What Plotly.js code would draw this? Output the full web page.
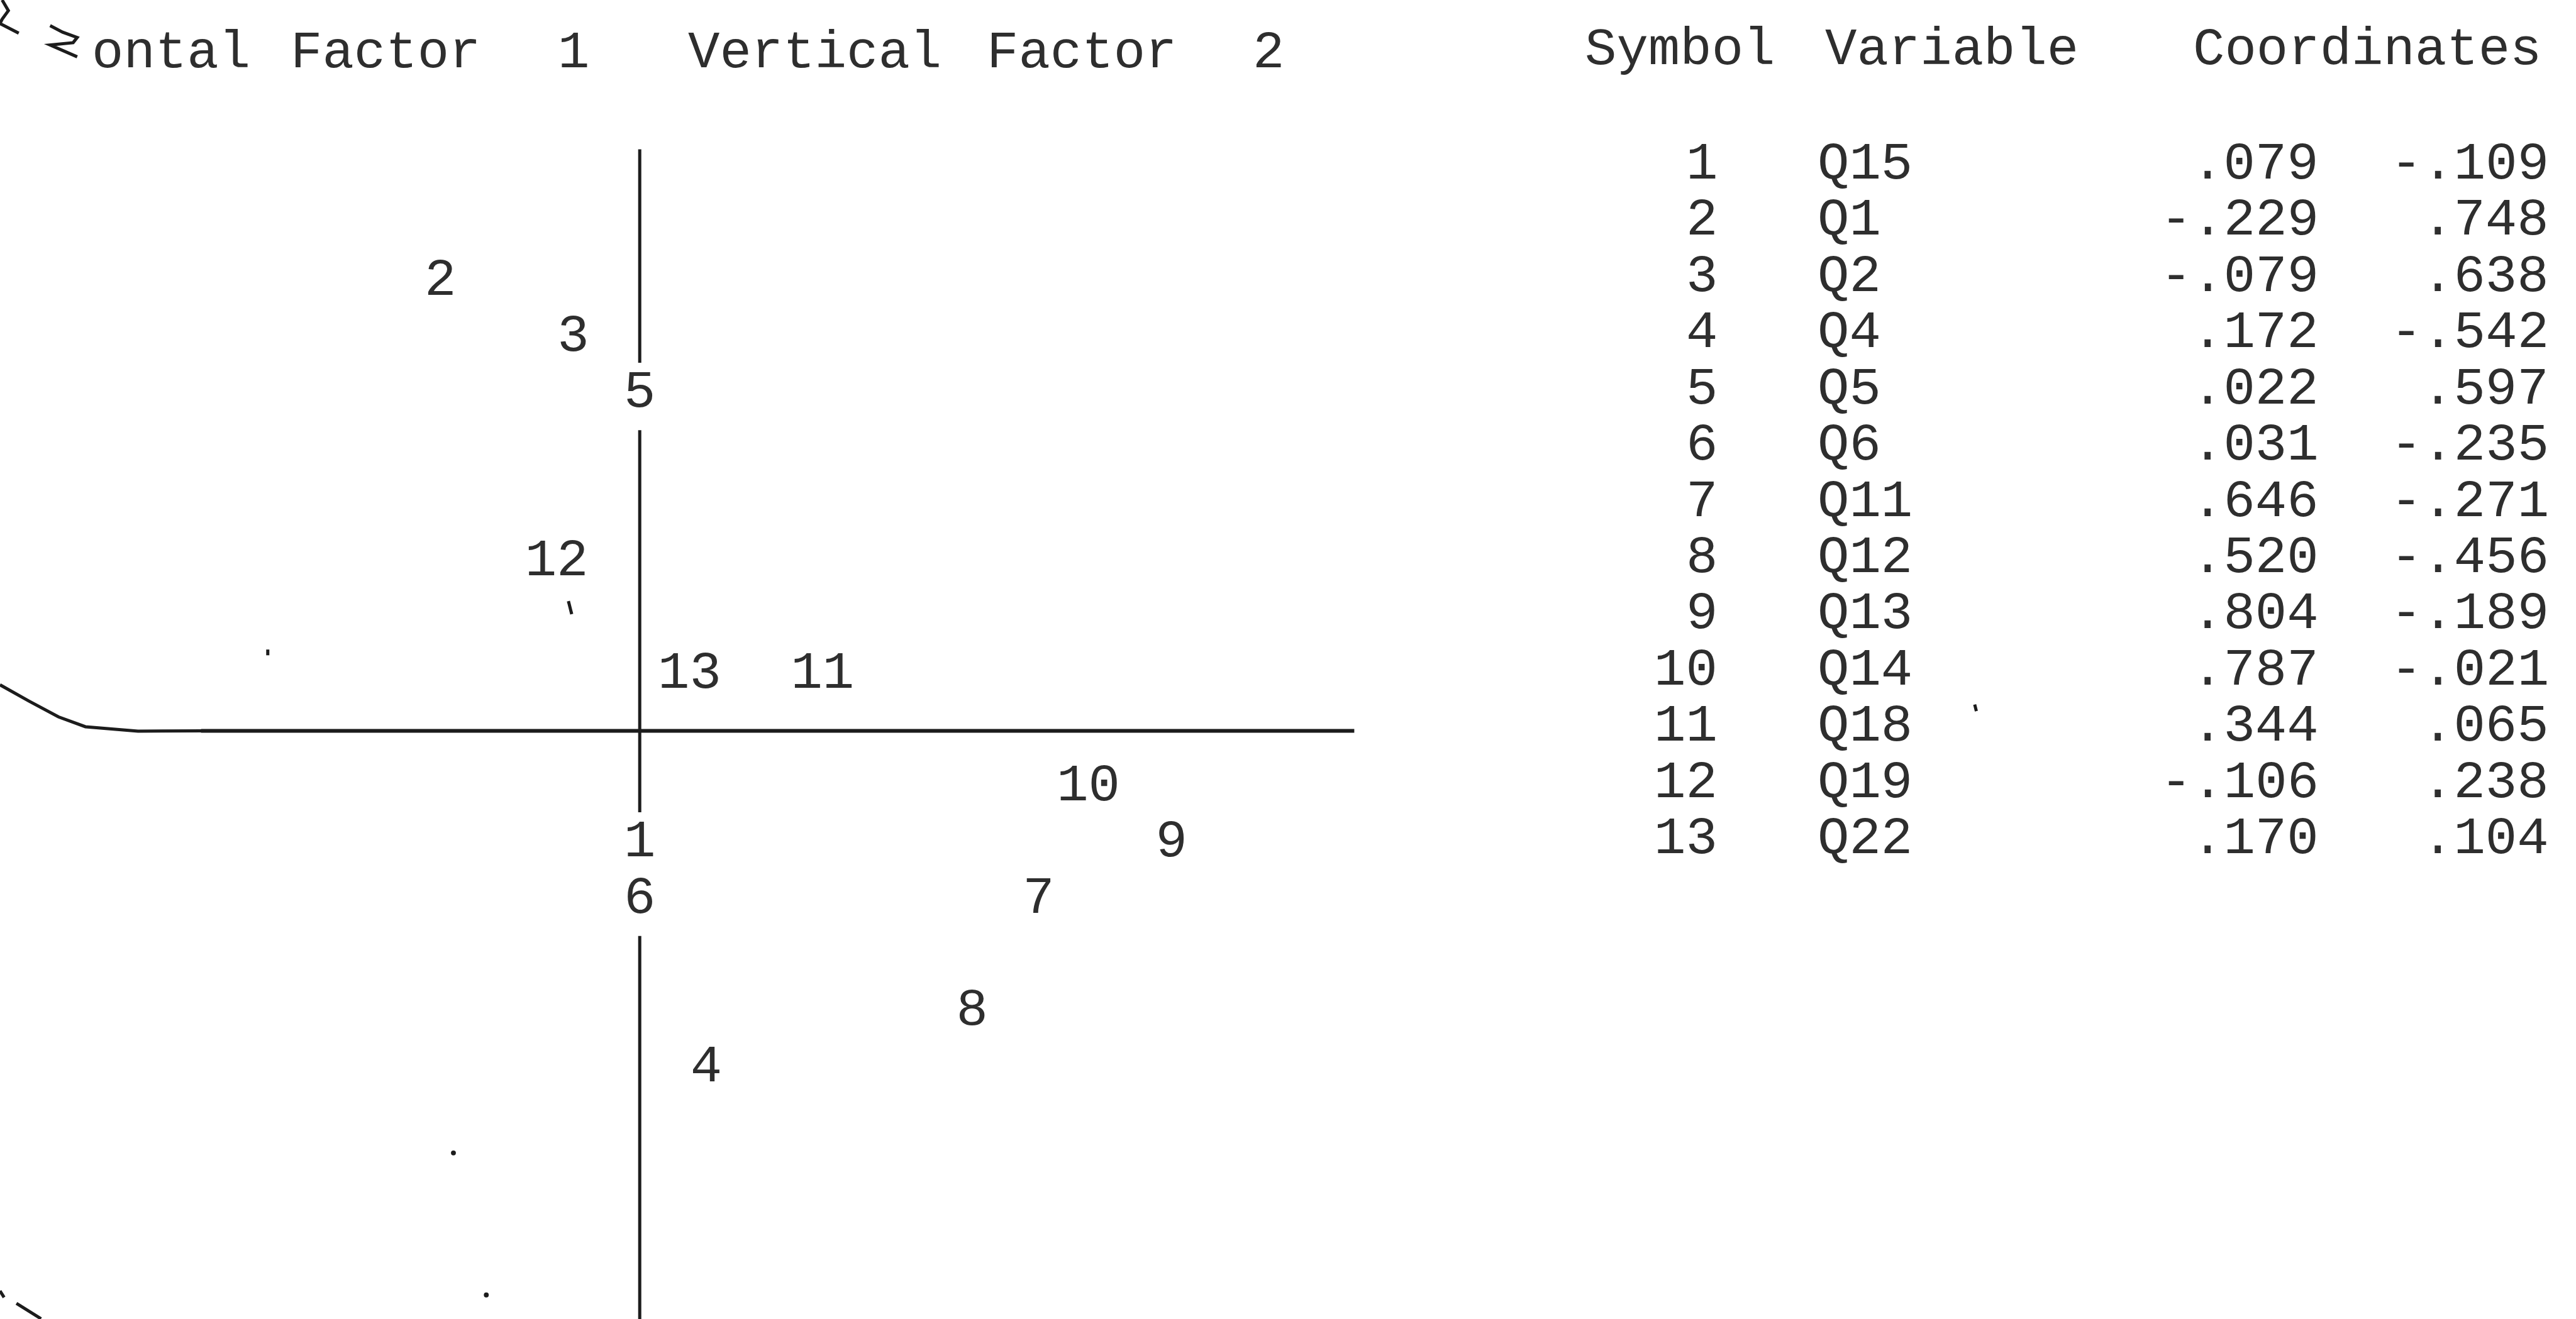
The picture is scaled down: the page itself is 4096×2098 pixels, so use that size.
<!DOCTYPE html>
<html>
<head>
<meta charset="utf-8">
<script src="https://cdn.plot.ly/plotly-3.0.1.min.js"></script>
<style>html,body{margin:0;padding:0;background:#fff;}#chart{width:4096px;height:2098px;}</style>
</head>
<body>
<div id="chart"></div>
<script>
// ---- data ----
const symbols   = [1, 2, 3, 4, 5, 6, 7, 8, 9, 10, 11, 12, 13];
const variables = ['Q15', 'Q1', 'Q2', 'Q4', 'Q5', 'Q6', 'Q11', 'Q12', 'Q13', 'Q14', 'Q18', 'Q19', 'Q22'];
const factor1   = [0.079, -0.229, -0.079, 0.172, 0.022, 0.031, 0.646, 0.520, 0.804, 0.787, 0.344, -0.106, 0.170];
const factor2   = [-0.109, 0.748, 0.638, -0.542, 0.597, -0.235, -0.271, -0.456, -0.189, -0.021, 0.065, 0.238, 0.104];
// character cell (column, row) in which the printer plot put each symbol (its last digit);
// column 0 is the vertical axis, row 0 the horizontal axis
const plotCol   = [0, -6, -2, 2, 0, 0, 12, 10, 16, 14, 6, -2, 2];
const plotRow   = [-2, 8, 7, -6, 6, -3, -3, -5, -2, -1, 1, 3, 1];
const titleWords  = ['ontal', 'Factor', '1', 'Vertical', 'Factor', '2'];
const headerWords = ['Symbol', 'Variable', 'Coordinates'];

// ---- layout helpers (reference is 1568 x 803 "shown" units) ----
const W = 4096, H = 2098;
const SW = 1568, SH = H * SW / W;
const px = s => s / SW;           // shown x -> paper x
const py = s => 1 - s / SH;       // shown y -> paper y
const FONT = 'Liberation Mono, DejaVu Sans Mono, monospace';
const INK = '#1c1c1c';
const TEXT_INK = '#2e2e2e';
const FS = 84;

const fmt = v => (v < 0 ? '-' : '') + Math.abs(v).toFixed(3).replace(/^0/, '');

// character grid geometry of the printer plot
const col0 = 389.4, colPx = 20.23, row0 = 445, rowPx = 34.21;
// printed axis extents (in cells)
const hLeft = -13.2, hRight = 21.5, vTop = 10.35, vBottom = -12;

// vertical axis is interrupted where symbols are printed in its column
const gapAbove = 0.55, gapBelow = 0.65;
let gaps = [];
plotCol.forEach((c, i) => { if (c === 0) gaps.push([plotRow[i] - gapBelow, plotRow[i] + gapAbove]); });
gaps.sort((a, b) => b[1] - a[1]);
let merged = [];
gaps.forEach(g => {
  const last = merged[merged.length - 1];
  if (last && g[1] >= last[0] - 0.15) { last[0] = Math.min(last[0], g[0]); }
  else merged.push([g[0], g[1]]);
});
let segs = []; let cur = vTop;
merged.forEach(g => { segs.push([cur, g[1]]); cur = g[0]; });
segs.push([cur, vBottom]);

const shapes = [];
segs.forEach(s => shapes.push({type: 'line', xref: 'x', yref: 'y', x0: 0, x1: 0, y0: s[0], y1: s[1],
  line: {color: INK, width: 5}}));
shapes.push({type: 'line', xref: 'x', yref: 'y', x0: hLeft, x1: hRight, y0: 0, y1: 0,
  line: {color: INK, width: 6}});

// scan artefacts: page curl of the horizontal rule and specks
function pathFrom(points) {
  return points.map((p, i) => (i ? 'L' : 'M') + px(p[0]).toFixed(5) + ',' + py(p[1]).toFixed(5)).join(' ');
}
const curlPts = [[0, 417], [17.8, 427], [35.6, 436.5], [52, 442.5], [84, 445.2], [123, 445]];
shapes.push({type: 'path', xref: 'paper', yref: 'paper', path: pathFrom(curlPts), line: {color: INK, width: 5}});
const artefacts = [
  [[1.3, 0], [5.1, 6.5], [1.3, 11.7], [0, 14.3], [11.4, 20.2]],
  [[30.5, 15.6], [38.1, 19.6], [47, 22.8], [44.5, 26], [30.5, 27.4], [47, 34.6]],
  [[0, 786], [2.5, 790]],
  [[10, 793.6], [25, 803]],
  [[346, 366], [348, 374]],
  [[163, 395.5], [163, 399]],
  [[1202, 429], [1203, 433]]
];
artefacts.forEach(a => shapes.push({type: 'path', xref: 'paper', yref: 'paper', path: pathFrom(a), line: {color: INK, width: 5}}));
[[276, 702], [296, 788.5]].forEach(d => shapes.push({type: 'circle', xref: 'paper', yref: 'paper',
  x0: px(d[0] - 1.5), x1: px(d[0] + 1.5), y0: py(d[1] + 1.5), y1: py(d[1] - 1.5), fillcolor: INK, line: {width: 0}}));

// ---- text annotations ----
const annotations = [];
function addText(text, xs, ys, anchor) {
  annotations.push({text: String(text), xref: 'paper', yref: 'paper', x: px(xs), y: py(ys),
    xanchor: anchor, yanchor: 'middle', showarrow: false, borderpad: 0,
    font: {family: FONT, size: FS, color: TEXT_INK}});
}
const titleCenters = [104, 234.5, 349, 496, 658.5, 772];
titleWords.forEach((w, i) => addText(w, titleCenters[i], 32.5, 'center'));
const headerCenters = [1022.5, 1188, 1441];
headerWords.forEach((w, i) => addText(w, headerCenters[i], 30.5, 'center'));

const rowY0 = 100, rowStep = 34.25;
symbols.forEach((s, i) => {
  const y = rowY0 + i * rowStep;
  addText(s, 1046, y, 'right');
  addText(variables[i], 1106, y, 'left');
  addText(fmt(factor1[i]), 1412, y, 'right');
  addText(fmt(factor2[i]), 1552, y, 'right');
});

// ---- plotted symbols (last digit sits in its cell) ----
const trace = {
  type: 'scatter', mode: 'text',
  x: plotCol.map((c, i) => c - (String(symbols[i]).length - 1) / 2),
  y: plotRow,
  text: symbols.map(String),
  textposition: 'middle center',
  textfont: {family: FONT, size: FS, color: TEXT_INK},
  hoverinfo: 'skip', cliponaxis: false, showlegend: false
};

const layout = {
  width: W, height: H,
  margin: {l: 0, r: 0, t: 0, b: 0, pad: 0},
  paper_bgcolor: '#ffffff', plot_bgcolor: '#ffffff',
  showlegend: false,
  xaxis: {range: [-col0 / colPx, (SW - col0) / colPx], visible: false, fixedrange: true},
  yaxis: {range: [(row0 - SH) / rowPx, row0 / rowPx], visible: false, fixedrange: true},
  shapes: shapes,
  annotations: annotations
};

Plotly.newPlot('chart', [trace], layout, {staticPlot: true, displayModeBar: false});
</script>
</body>
</html>
